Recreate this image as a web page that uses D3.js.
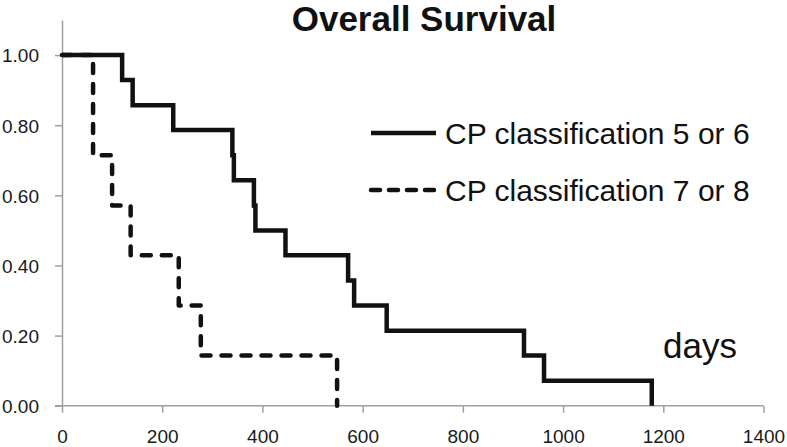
<!DOCTYPE html>
<html>
<head>
<meta charset="utf-8">
<script src="https://cdn.jsdelivr.net/npm/d3@7"></script>
<style>
  html, body { margin: 0; padding: 0; background: #fff; }
  svg { display: block; }
</style>
</head>
<body>
<svg id="chart" width="787" height="447"></svg>
<script>
// ---- data ----
const titleText = "Overall Survival";
const xLabel = "days";
const seriesNames = ["CP classification 5 or 6", "CP classification 7 or 8"];
const solidTimes = [0, 120, 141, 222, 340, 343, 383, 386, 446, 571, 583, 648, 922, 962, 1177];
const solidSurv  = [1.000, 0.929, 0.857, 0.786, 0.714, 0.643, 0.571, 0.500, 0.429, 0.357, 0.286, 0.214, 0.143, 0.071, 0.000];
const dashedTimes = [0, 62, 100, 137, 233, 277, 549];
const dashedSurv  = [1.000, 0.714, 0.571, 0.429, 0.286, 0.143, 0.000];
const xTicks = [0, 200, 400, 600, 800, 1000, 1200, 1400];
const yTicks = [0, 0.2, 0.4, 0.6, 0.8, 1.0];

// ---- layout ----
const svg = d3.select("#chart");
const x = d3.scaleLinear().domain([0, 1400]).range([62, 763.5]);
const y = d3.scaleLinear().domain([0, 1.1]).range([405.7, 20]);
const axisColor = "#a0a0a0";
const tickFont = "'Liberation Sans', Arial, sans-serif";

// axes
const xAxis = svg.append("g").attr("transform", `translate(0,${y(0)})`)
  .call(d3.axisBottom(x).tickValues(xTicks).tickFormat(d3.format("d")).tickSizeInner(7).tickSizeOuter(0).tickPadding(17));
const yAxis = svg.append("g").attr("transform", `translate(${x(0)},0)`)
  .call(d3.axisLeft(y).tickValues(yTicks).tickFormat(d3.format(".2f")).tickSizeInner(7).tickSizeOuter(0).tickPadding(16));
[xAxis, yAxis].forEach(g => {
  g.select(".domain").attr("stroke", axisColor).attr("stroke-width", 1.5);
  g.selectAll(".tick line").attr("stroke", axisColor).attr("stroke-width", 1.5);
  g.selectAll(".tick text").attr("fill", "#1a1a1a").style("font-family", tickFont).style("font-size", "19px");
});
// extend x axis line left to the y tick
xAxis.select(".domain").attr("d", `M${-7 + x(0)},0H${x(1400)}`);
// x ticks should start at bottom of the axis
yAxis.selectAll(".tick text").attr("dy", "0.36em");

// lines
const line = d3.line().x(d => x(d[0])).y(d => y(d[1])).curve(d3.curveStepAfter);
const dashedData = dashedTimes.map((t, i) => [t, dashedSurv[i]]);
const solidData = solidTimes.map((t, i) => [t, solidSurv[i]]);

svg.append("path").datum(dashedData).attr("d", line)
  .attr("fill", "none").attr("stroke", "#111").attr("stroke-width", 4.5)
  .attr("stroke-dasharray", "9,11").attr("stroke-linecap", "round").attr("stroke-linejoin", "round");
svg.append("path").datum(solidData).attr("d", line)
  .attr("fill", "none").attr("stroke", "#111").attr("stroke-width", 4.5)
  .attr("stroke-linejoin", "miter");

// title
svg.append("text").attr("x", 424).attr("y", 31).attr("text-anchor", "middle")
  .style("font-family", "'Liberation Sans', Arial, sans-serif").style("font-weight", "bold").style("font-size", "35px")
  .attr("fill", "#111").text(titleText);

// legend
const legend = svg.append("g");
const legY = [133, 190];
seriesNames.forEach((name, i) => {
  legend.append("line").attr("x1", 371).attr("x2", 436).attr("y1", legY[i]).attr("y2", legY[i])
    .attr("stroke", "#111").attr("stroke-width", 4.5)
    .attr("stroke-dasharray", i === 1 ? "9,9" : null)
    .attr("stroke-linecap", i === 1 ? "round" : "butt");
  legend.append("text").attr("x", 445).attr("y", legY[i] + 10.5)
    .style("font-family", "'Liberation Sans', Arial, sans-serif").style("font-size", "30px")
    .attr("fill", "#111").text(name);
});

// x label
svg.append("text").attr("x", 663).attr("y", 358)
  .style("font-family", "'Liberation Sans', Arial, sans-serif").style("font-size", "35px")
  .attr("fill", "#111").text(xLabel);
</script>
</body>
</html>
